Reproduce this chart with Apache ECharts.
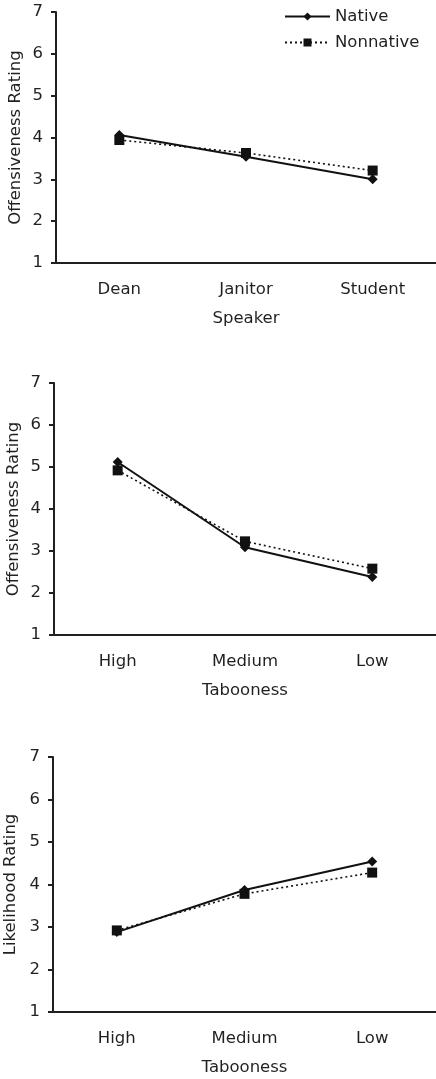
<!DOCTYPE html>
<html><head><meta charset="utf-8">
<script src="https://cdn.jsdelivr.net/npm/echarts@6/dist/echarts.min.js"></script>
<style>html,body{margin:0;padding:0;background:#fff}#c{width:436px;height:1079px}</style>
</head><body><div id="c"></div>
<script>
var speakerCats = ['Dean', 'Janitor', 'Student'];
var tabooCats = ['High', 'Medium', 'Low'];
var yTicks = [1, 2, 3, 4, 5, 6, 7];

var native1 = [4.06, 3.54, 3.0];
var nonnative1 = [3.94, 3.63, 3.21];
var native2 = [5.12, 3.09, 2.38];
var nonnative2 = [4.92, 3.23, 2.58];
var native3 = [2.88, 3.87, 4.54];
var nonnative3 = [2.92, 3.78, 4.28];

var yTitles = ['Offensiveness Rating', 'Offensiveness Rating', 'Likelihood Rating'];
var xTitles = ['Speaker', 'Tabooness', 'Tabooness'];

var ink = '#231f20';
var font = 'DejaVu Sans';
var fs = 16.5;
var chart = echarts.init(document.getElementById('c'));

var grids = [
  {left: 56, top: 12, right: 0, height: 251, outerBoundsMode: 'none', containLabel: false},
  {left: 54, top: 383, right: 0, height: 252, outerBoundsMode: 'none', containLabel: false},
  {left: 53, top: 757, right: 0, height: 255, outerBoundsMode: 'none', containLabel: false}
];
var cats = [speakerCats, tabooCats, tabooCats];
var nat = [native1, native2, native3];
var non = [nonnative1, nonnative2, nonnative3];
var yGaps = [32, 32, 34];

var xAxes = [], yAxes = [], series = [];
for (var i = 0; i < 3; i++) {
  xAxes.push({
    type: 'category', gridIndex: i, data: cats[i], boundaryGap: true,
    name: xTitles[i], nameLocation: 'middle', nameGap: 47, nameMoveOverlap: false,
    nameTextStyle: {color: ink, fontSize: fs, fontFamily: font},
    axisLine: {lineStyle: {color: ink, width: 2}},
    axisTick: {length: 5, lineStyle: {color: ink, width: 2}},
    axisLabel: {color: ink, fontSize: fs, fontFamily: font, margin: 18}
  });
  yAxes.push({
    type: 'value', gridIndex: i, min: yTicks[0], max: yTicks[yTicks.length - 1], interval: 1,
    name: yTitles[i], nameLocation: 'middle', nameGap: yGaps[i], nameMoveOverlap: false,
    nameTextStyle: {color: ink, fontSize: fs, fontFamily: font},
    axisLine: {show: true, lineStyle: {color: ink, width: 2}},
    axisTick: {show: true, length: 5, lineStyle: {color: ink, width: 2}},
    axisLabel: {color: ink, fontSize: fs, fontFamily: font, margin: 13},
    splitLine: {show: false}
  });
  series.push({
    name: 'Native', type: 'line', xAxisIndex: i, yAxisIndex: i, data: nat[i],
    symbol: 'diamond', symbolSize: 10, color: '#111',
    lineStyle: {color: '#111', width: 2, type: 'solid'},
    itemStyle: {color: '#111'}, animation: false, z: 3
  });
  series.push({
    name: 'Nonnative', type: 'line', xAxisIndex: i, yAxisIndex: i, data: non[i],
    symbol: 'rect', symbolSize: 10, color: '#111',
    lineStyle: {color: '#111', width: 1.6, type: [2, 3]},
    itemStyle: {color: '#111'}, animation: false, z: 2
  });
}

chart.setOption({
  animation: false,
  grid: grids,
  legend: {
    data: ['Native', 'Nonnative'], orient: 'vertical', left: 279, top: 3,
    itemWidth: 45, itemHeight: 10, itemGap: 9,
    textStyle: {color: ink, fontSize: fs, fontFamily: font}
  },
  xAxis: xAxes,
  yAxis: yAxes,
  series: series
});
</script></body></html>
